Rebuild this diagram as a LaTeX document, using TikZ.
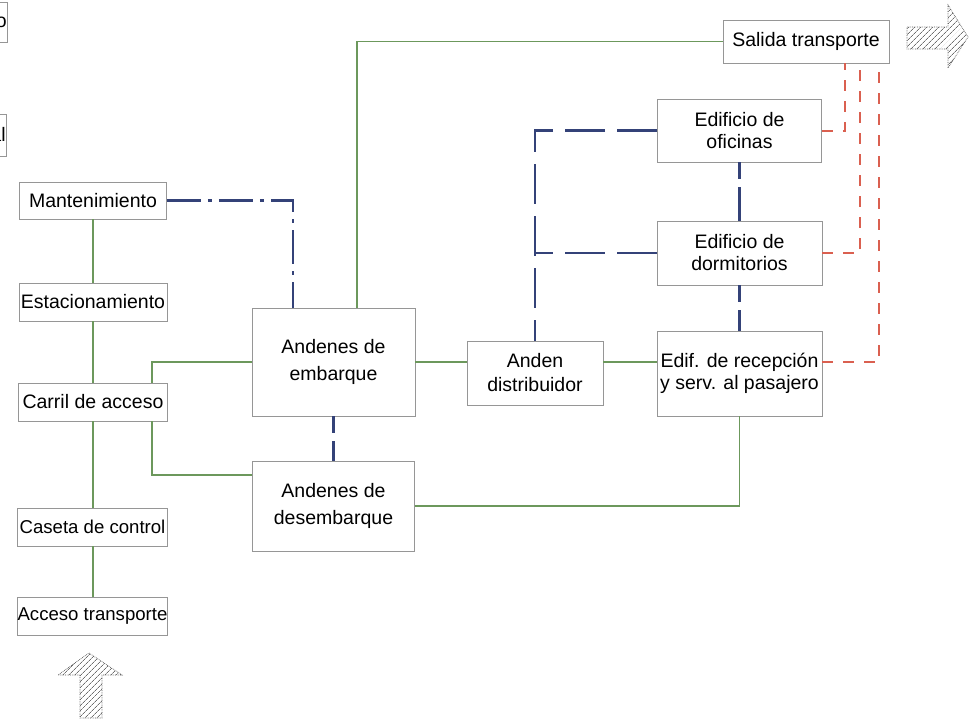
\documentclass[tikz,border=0pt]{standalone}
\usepackage{fontspec}
\setmainfont{Liberation Sans}
\usetikzlibrary{patterns.meta}
\definecolor{boxgray}{RGB}{150,150,150}
\definecolor{lgreen}{RGB}{108,152,92}
\definecolor{lblue}{RGB}{52,66,120}
\definecolor{lred}{RGB}{218,96,80}
\definecolor{hatch}{RGB}{110,110,110}
\tikzset{
  box/.style={draw=boxgray, line width=0.8pt, fill=white, inner sep=0pt, align=center,
    font=\fontsize{19.5}{22}\selectfont},
  narrow/.style={font=\fontsize{18.6}{22}\selectfont},
  wide/.style={font=\fontsize{19.5}{27.5}\selectfont},
  mid/.style={font=\fontsize{19.5}{24}\selectfont},
  gline/.style={draw=lgreen, line width=1.7pt},
  bline/.style={draw=lblue, line width=2.1pt, dash pattern=on 40pt off 12pt},
  bshort/.style={draw=lblue, line width=2.1pt, dash pattern=on 17pt off 8pt on 60pt off 8pt},
  bdot/.style={draw=lblue, line width=2.1pt, dash pattern=on 34pt off 7pt on 4pt off 7pt},
  rline/.style={draw=lred, line width=2pt, dash pattern=on 11pt off 10pt},
  hatcharrow/.style={pattern={Lines[angle=45,distance=4pt,line width=0.8pt]}, pattern color=hatch,
    draw=hatch!80!black, line width=0.7pt, densely dotted}
}
\begin{document}
\begin{tikzpicture}[x=1pt,y=-1pt]
\useasboundingbox (0,0) rectangle (972,720);
% partial boxes at the left edge
\begin{scope}
\clip (0,0) rectangle (972,720);
\node[box, anchor=east, minimum width=80, minimum height=40, text width=78, align=right] (p1) at (8,22) {o};
\node[box, anchor=east, minimum width=80, minimum height=42, text width=78, align=right] (p2) at (7,135) {al};
\end{scope}
% left column
\node[box, minimum width=147, minimum height=37] (mant) at (93,200.5) {Mantenimiento};
\node[box, minimum width=148, minimum height=38] (est) at (93,302) {Estacionamiento};
\node[box, minimum width=149, minimum height=38] (carril) at (93,402) {Carril de acceso};
\node[box, narrow, minimum width=150, minimum height=38] (caseta) at (92.5,527) {Caseta de control};
\node[box, narrow, minimum width=149, minimum height=38] (acceso) at (92.5,616) {Acceso transporte};
% center
\node[box, wide, minimum width=163, minimum height=108] (emb) at (333.5,362) {Andenes de\\embarque};
\node[box, wide, minimum width=162, minimum height=90] (desemb) at (333.5,506) {Andenes de\\desembarque};
\node[box, mid, minimum width=136, minimum height=64] (dist) at (535,373) {Anden\\distribuidor};
% right
\node[box, minimum width=165, minimum height=85] (recep) at (739.5,373.5) {Edif. de recepción\\y serv. al pasajero};
\node[box, minimum width=164, minimum height=63] (ofic) at (739.5,130.5) {Edificio de\\oficinas};
\node[box, minimum width=165, minimum height=64] (dorm) at (739.5,253) {Edificio de\\dormitorios};
\node[box, minimum width=166, minimum height=43] (salida) at (806,41.5) {Salida transporte};

% green connectors
\draw[gline] (mant.south) -- (mant.south |- est.north);
\draw[gline] (mant.south |- est.south) -- (mant.south |- carril.north);
\draw[gline] (mant.south |- carril.south) -- (mant.south |- caseta.north);
\draw[gline] (mant.south |- caseta.south) -- (mant.south |- acceso.north);
\draw[gline] (emb.west) -| ([xshift=59pt]carril.north);
\draw[gline] ([xshift=59pt]carril.south) |- ([yshift=31pt]desemb.west);
\draw[gline] (emb.east) -- (emb.east -| dist.west);
\draw[gline] (emb.east -| dist.east) -- (emb.east -| recep.west);
\draw[gline] (recep.south) |- (desemb.east);
\draw[gline] (salida.west) -| ([xshift=23.5pt]emb.north);

% blue connectors
\draw[bdot] (mant.east) -| ([xshift=-40.5pt]emb.north);
\draw[bline] (ofic.west) -| (dist.north);
\draw[bline] (dorm.west) -- (dorm.west -| dist.north);
\draw[bshort] (ofic.south) -- (dorm.north);
\draw[bshort] (dorm.south) -- (recep.north);
\draw[bshort] (emb.south) -- (desemb.north);

% red connectors
\draw[rline] (ofic.east) -| ([xshift=39pt]salida.south);
\draw[rline] (dorm.east) -| ([xshift=54pt]salida.south);
\draw[rline] (emb.east -| recep.east) -| ([xshift=73pt]salida.south);

% hatched arrows
\path[hatcharrow] (907,27) -- (948,27) -- (948,5) -- (968,37) -- (948,68) -- (948,49) -- (907,49) -- cycle;
\path[hatcharrow] (89,653) -- (122,675) -- (102,675) -- (102,718) -- (80,718) -- (80,675) -- (58,675) -- cycle;
\end{tikzpicture}
\end{document}
